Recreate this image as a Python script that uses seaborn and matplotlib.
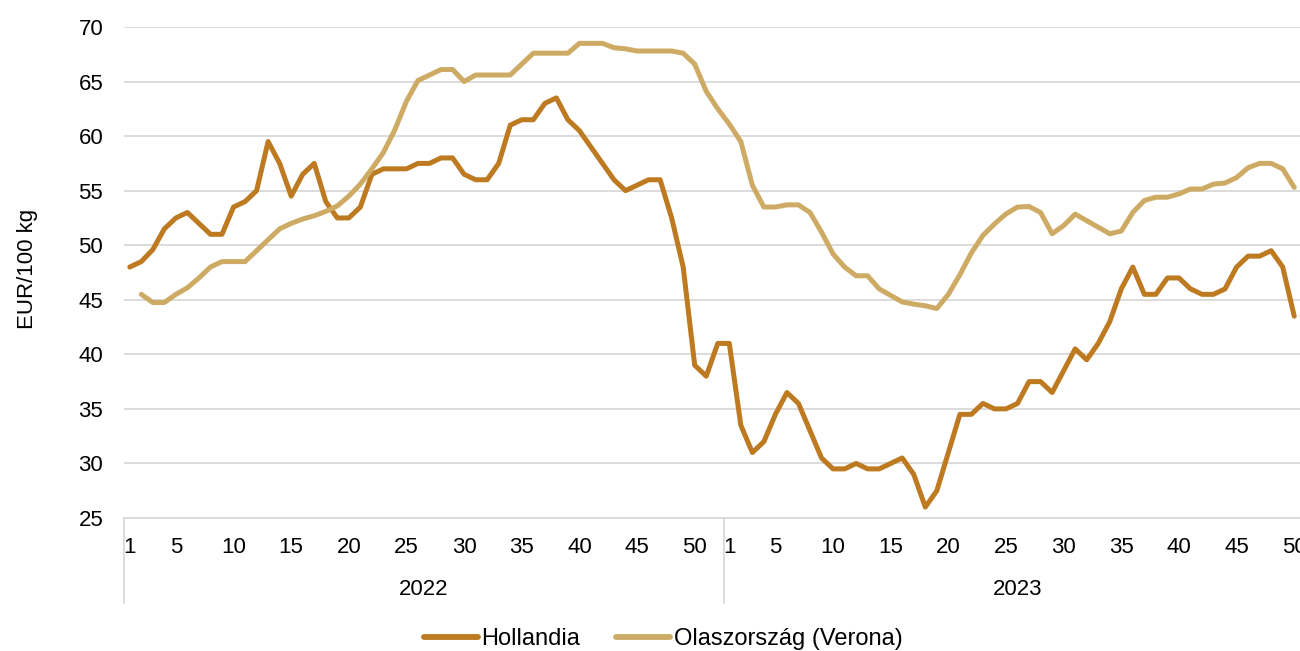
import numpy as np
import pandas as pd
import matplotlib
matplotlib.use("Agg")
import matplotlib.pyplot as plt
import matplotlib.transforms as mtransforms
import seaborn as sns

# ---- data ----
years = ["2022", "2023"]
weeks_2022 = list(range(1, 53))
weeks_2023 = list(range(1, 51))

hollandia_2022 = [48, 48.5, 49.6, 51.5, 52.5, 53, 52, 51, 51, 53.5,
                  54, 55, 59.5, 57.5, 54.5, 56.5, 57.5, 54, 52.5, 52.5,
                  53.5, 56.5, 57, 57, 57, 57.5, 57.5, 58, 58, 56.5,
                  56, 56, 57.5, 61, 61.5, 61.5, 63, 63.5, 61.5, 60.5,
                  59, 57.5, 56, 55, 55.5, 56, 56, 52.5, 48, 39,
                  38, 41]
hollandia_2023 = [41, 33.5, 31, 32, 34.5, 36.5, 35.5, 33, 30.5, 29.5,
                  29.5, 30, 29.5, 29.5, 30, 30.5, 29, 26, 27.5, 31,
                  34.5, 34.5, 35.5, 35, 35, 35.5, 37.5, 37.5, 36.5, 38.5,
                  40.5, 39.5, 41, 43, 46, 48, 45.5, 45.5, 47, 47,
                  46, 45.5, 45.5, 46, 48, 49, 49, 49.5, 48, 43.5]
olasz_2022 = [np.nan, 45.5, 44.75, 44.75, 45.5, 46.1, 47, 48, 48.5, 48.5,
              48.5, 49.5, 50.5, 51.5, 52, 52.4, 52.7, 53.1, 53.6, 54.5,
              55.6, 57, 58.5, 60.6, 63.2, 65.1, 65.6, 66.1, 66.1, 65,
              65.6, 65.6, 65.6, 65.6, 66.6, 67.6, 67.6, 67.6, 67.6, 68.5,
              68.5, 68.5, 68.1, 68, 67.8, 67.8, 67.8, 67.8, 67.6, 66.6,
              64.1, 62.5]
olasz_2023 = [61.1, 59.5, 55.5, 53.5, 53.5, 53.7, 53.7, 53, 51.2, 49.2,
              48, 47.2, 47.2, 46, 45.4, 44.8, 44.6, 44.45, 44.2, 45.5,
              47.3, 49.3, 50.9, 51.95, 52.87, 53.5, 53.55, 53, 51.05, 51.8,
              52.85, 52.25, 51.65, 51.05, 51.3, 53, 54.1, 54.4, 54.4, 54.7,
              55.15, 55.15, 55.6, 55.7, 56.2, 57.1, 57.5, 57.5, 57, 55.3]
series_names = ["Hollandia", "Olaszország (Verona)"]
tick_weeks = [1, 5, 10, 15, 20, 25, 30, 35, 40, 45, 50]
ylabel = "EUR/100 kg"

# ---- build long data ----
n22, n23 = len(weeks_2022), len(weeks_2023)
idx = np.arange(n22 + n23)
hol = hollandia_2022 + hollandia_2023
ita = olasz_2022 + olasz_2023
df = pd.DataFrame({
    "idx": np.concatenate([idx, idx]),
    "value": np.concatenate([hol, ita]),
    "series": [series_names[0]] * len(idx) + [series_names[1]] * len(idx),
})
df = df.dropna()

sns.set_style("white")
plt.rcParams["font.family"] = ["Liberation Sans", "DejaVu Sans"]
plt.rcParams["text.color"] = "#000000"

fig = plt.figure(figsize=(13, 6.51), dpi=100)
ax = fig.add_axes([124 / 1300, 1 - 518 / 651, 1 - 124 / 1300, (518 - 27) / 651])

palette = {series_names[0]: "#BE7A20", series_names[1]: "#CEAB64"}
sns.lineplot(data=df, x="idx", y="value", hue="series", palette=palette,
             linewidth=3.6, ax=ax, legend=True, sort=True,
             solid_capstyle="round", solid_joinstyle="round")

ax.set_xlim(-0.5, n22 + n23 - 0.5)
ax.set_ylim(25, 70)
ax.set_yticks(np.arange(25, 71, 5))
ax.yaxis.grid(True, color="#D9D9D9", linewidth=1.3)
ax.xaxis.grid(False)
for s in ["left", "top", "right"]:
    ax.spines[s].set_visible(False)
ax.spines["bottom"].set_color("#D9D9D9")
ax.spines["bottom"].set_linewidth(1.3)

# x ticks: weeks per year
pos, labs = [], []
for w in tick_weeks:
    pos.append(w - 1); labs.append(str(w))
for w in tick_weeks:
    pos.append(n22 + w - 1); labs.append(str(w))
ax.set_xticks(pos)
ax.set_xticklabels(labs)
ax.tick_params(axis="x", length=0, pad=14, labelsize=16, labelcolor="#000000")
ax.tick_params(axis="y", length=0, pad=15, labelsize=16, labelcolor="#000000")
ax.set_xlabel("")
ax.set_ylabel("")

# year labels and separators
trans = mtransforms.blended_transform_factory(ax.transData, ax.transAxes)
ax.text((n22 - 1) / 2, -0.146, years[0], transform=trans, ha="center", va="center",
        fontsize=16, color="#000000")
ax.text(n22 + (n23 - 1) / 2 + 0.5, -0.146, years[1], transform=trans, ha="center",
        va="center", fontsize=16, color="#000000")
for xb in [-0.5, n22 - 0.5]:
    ax.plot([xb, xb], [0, -0.173], transform=trans, color="#D9D9D9",
            linewidth=1.3, clip_on=False)

fig.text(28 / 1300, 1 - 269 / 651, ylabel, rotation=90, ha="center", va="center",
         fontsize=16, color="#000000")

handles, labels = ax.get_legend_handles_labels()
ax.legend_.remove()
leg = fig.legend(handles, labels, loc="center", bbox_to_anchor=(663 / 1300, 1 - 639 / 651),
                 ncol=2, frameon=False, fontsize=17, handlelength=2.3, handletextpad=0.15,
                 columnspacing=1.5, borderaxespad=0)
for t in leg.get_texts():
    t.set_color("#000000")
for h in leg.legend_handles:
    h.set_linewidth(4.2)

fig.savefig("out.png", dpi=100)
